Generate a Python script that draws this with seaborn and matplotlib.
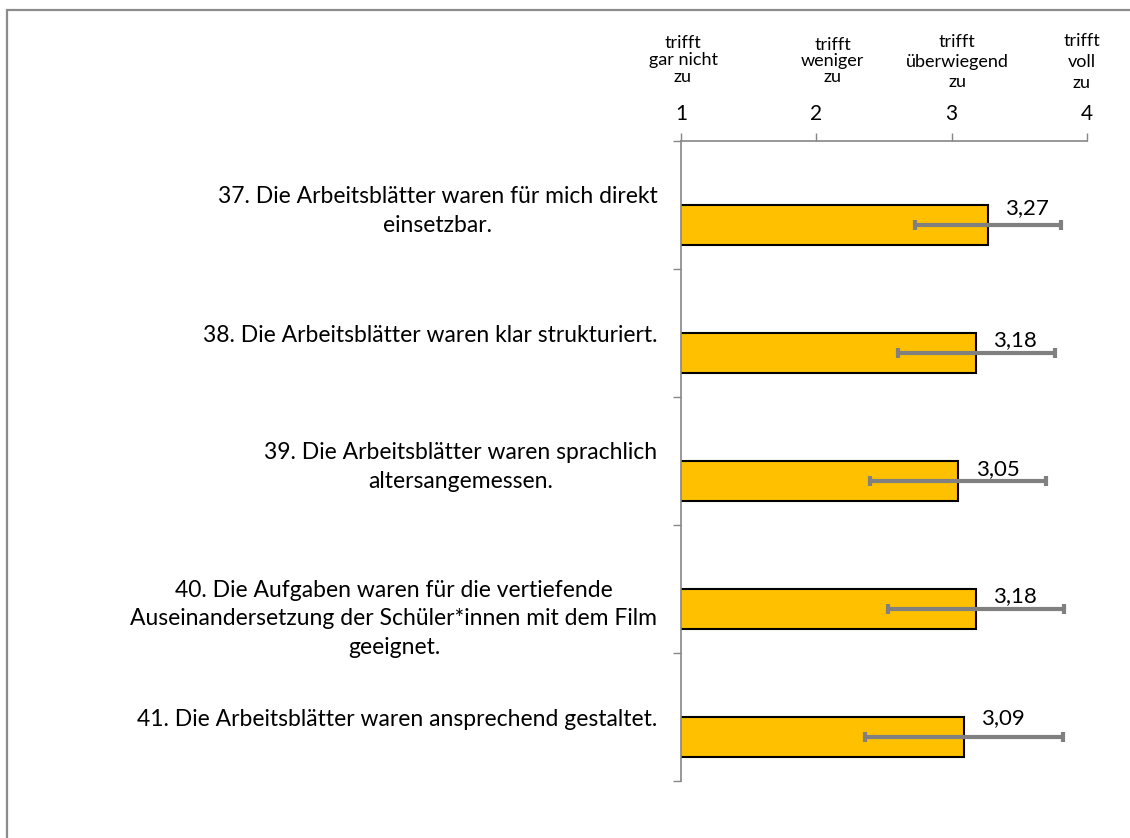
import numpy as np
import pandas as pd
import matplotlib
matplotlib.use("Agg")
import matplotlib.pyplot as plt
import seaborn as sns
from matplotlib.transforms import ScaledTranslation, blended_transform_factory
from matplotlib.patches import Rectangle

# ---------------- data ----------------
items = [
    "37. Die Arbeitsblätter waren für mich direkt\neinsetzbar.",
    "38. Die Arbeitsblätter waren klar strukturiert.",
    "39. Die Arbeitsblätter waren sprachlich\naltersangemessen.",
    "40. Die Aufgaben waren für die vertiefende\nAuseinandersetzung der Schüler*innen mit dem Film\ngeeignet.",
    "41. Die Arbeitsblätter waren ansprechend gestaltet.",
]
means = [3.27, 3.18, 3.05, 3.18, 3.09]
sds = [0.54, 0.58, 0.65, 0.65, 0.73]
scale_ticks = [1, 2, 3, 4]
scale_tick_labels = ["1", "2", "3", "4"]
scale_labels = [
    "trifft\ngar nicht\nzu",
    "trifft\nweniger\nzu",
    "trifft\nüberwiegend\nzu",
    "trifft\nvoll\nzu",
]
series_names = ["leer", "Mittelwert"]

# ---------------- style / layout ----------------
sns.set_theme(style="ticks")
plt.rcParams["font.family"] = ["Lato", "DejaVu Sans"]
AXCOL = "#868686"
value_label_dy_px = [17, 13, 12, 13, 19]   # label height above bar centre
value_label_dx_px = 39

df = pd.DataFrame({"item": items, "mean": means, "serie": "Mittelwert"})

W, H = 1130, 838
fig = plt.figure(figsize=(W / 100, H / 100), dpi=100)
ax = fig.add_axes([681 / W, 1 - 781 / H, 406 / W, 640 / H])

sns.barplot(
    data=df, y="item", x="mean", hue="serie", hue_order=series_names,
    order=items, palette={"leer": "white", "Mittelwert": "#FFC000"},
    saturation=1, dodge=True, width=0.63, edgecolor="black", linewidth=1.5,
    errorbar=None, legend=False, ax=ax, orient="h",
)

# bar centers from the drawn patches
bars = sorted(ax.patches, key=lambda p: p.get_y())
ycent = [p.get_y() + p.get_height() / 2 for p in bars]

ax.errorbar(means, ycent, xerr=sds, fmt="none", ecolor="#808080",
            elinewidth=3, capsize=3.8, capthick=3, zorder=4)

for m, yc, dy in zip(means, ycent, value_label_dy_px):
    ax.annotate(f"{m:.2f}".replace(".", ","), xy=(m, yc),
                xytext=(value_label_dx_px * 0.72, dy * 0.72),
                textcoords="offset points", ha="center", va="center",
                fontsize=16, color="black", zorder=5)

ax.set_xlim(1, 4)
ax.set_ylim(4.5, -0.5)
ax.set_xlabel("")
ax.set_ylabel("")

ax.xaxis.tick_top()
ax.set_xticks(scale_ticks)
ax.set_xticklabels(scale_tick_labels)
ax.tick_params(axis="x", which="major", top=True, bottom=False, direction="out",
               length=6, width=1, color=AXCOL, labelsize=15, pad=6.5,
               labelcolor="black")

ax.set_yticks(range(len(items)))
ax.set_yticklabels(items)
ax.set_yticks(np.arange(-0.5, len(items), 1.0), minor=True)
ax.tick_params(axis="y", which="major", left=True, length=0, pad=17,
               labelsize=16.5, labelcolor="black")
ax.tick_params(axis="y", which="minor", left=True, direction="out",
               length=6, width=1, color=AXCOL)

for s in ["right", "bottom"]:
    ax.spines[s].set_visible(False)
for s in ["left", "top"]:
    ax.spines[s].set_color(AXCOL)
    ax.spines[s].set_linewidth(1.2)

for i, lbl in enumerate(ax.get_yticklabels()):
    lbl.set_multialignment("center")
    lbl.set_linespacing(1.45)
    if i == 3:
        lbl.set_transform(lbl.get_transform() +
                          ScaledTranslation(0, -24 / 100, fig.dpi_scale_trans))

# scale descriptions above the top axis
trans = blended_transform_factory(ax.transData, fig.transFigure)
header_x = [1.015, 2.12, 3.04, 3.96]
header_yc = [60, 61, 62, 62]
header_ls = [1.1, 0.97, 1.3, 1.38]
for txt, hx, hy, ls in zip(scale_labels, header_x, header_yc, header_ls):
    ax.text(hx, 1 - hy / H, txt, transform=trans, ha="center", va="center",
            fontsize=13, linespacing=ls, multialignment="center", color="black")

# chart-area frame
fig.patches.append(Rectangle((7 / W, -0.1), 1.2, 1 - 10 / H + 0.1,
                             transform=fig.transFigure, fill=False,
                             edgecolor="#8C8C8C", linewidth=1.6))

fig.savefig("out.png", dpi=100)
